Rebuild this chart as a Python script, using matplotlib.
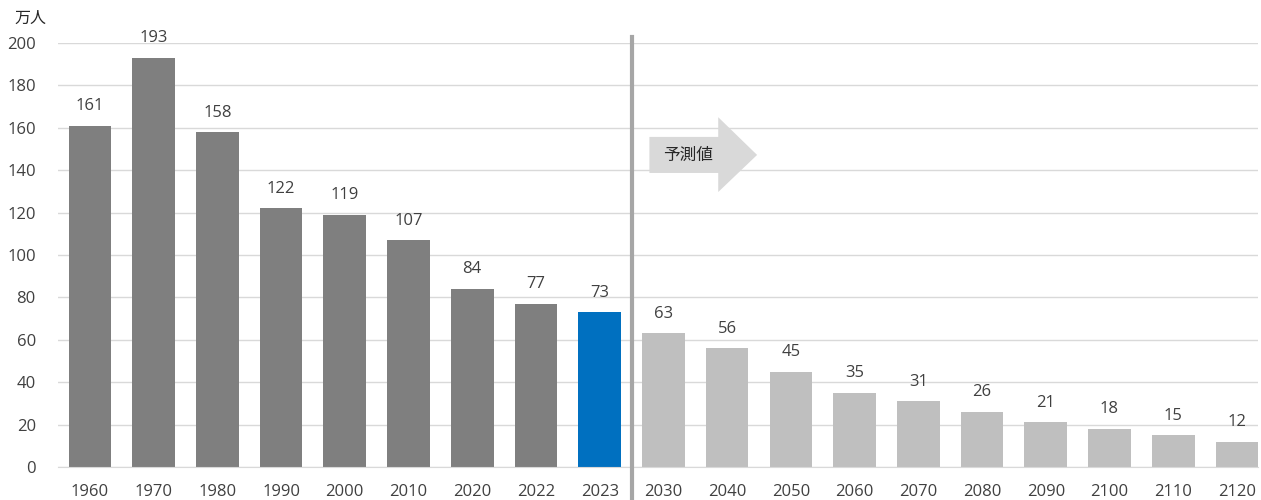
import matplotlib
matplotlib.use("Agg")
import matplotlib.pyplot as plt
from matplotlib.patches import Polygon

plt.rcParams["font.family"] = ["Open Sans", "Noto Sans CJK JP", "DejaVu Sans"]

years = ["1960", "1970", "1980", "1990", "2000", "2010", "2020", "2022", "2023",
         "2030", "2040", "2050", "2060", "2070", "2080", "2090", "2100", "2110", "2120"]
values = [161, 193, 158, 122, 119, 107, 84, 77, 73,
          63, 56, 45, 35, 31, 26, 21, 18, 15, 12]
n_actual = 8          # 1960-2022 actual
colors = ["#7f7f7f"] * n_actual + ["#0070c0"] + ["#bfbfbf"] * (len(years) - n_actual - 1)

fig = plt.figure(figsize=(12.61, 5), dpi=100)
ax = fig.add_axes([58 / 1261, 33 / 500, 1200 / 1261, 424 / 500])

x = list(range(len(years)))
ax.bar(x, values, width=0.67, color=colors, zorder=2)
for xi, v in zip(x, values):
    ax.annotate(str(v), (xi, v), xytext=(0, 14), textcoords="offset points",
                ha="center", va="center", fontsize=12, color="#404040")

ax.set_xlim(-0.5, 18.33)
ax.set_ylim(0, 200)
ax.set_yticks(range(0, 201, 20))
ax.set_xticks(x)
ax.set_xticklabels(years)
ax.yaxis.grid(True, color="#d9d9d9", linewidth=1, zorder=0)
for s in ["top", "right", "left"]:
    ax.spines[s].set_visible(False)
ax.spines["bottom"].set_color("#d9d9d9")
ax.tick_params(length=0, labelsize=12, labelcolor="#404040")
ax.tick_params(axis="x", pad=12)
ax.tick_params(axis="y", pad=16)

# divider between actual and projected
ax.plot([8.5, 8.5], [203, -16], color="#a6a6a6", linewidth=3, clip_on=False, zorder=3)

# projection arrow
arrow = Polygon([(8.78, 138.7), (9.86, 138.7), (9.86, 129.7), (10.47, 147.2),
                 (9.86, 165.0), (9.86, 155.7), (8.78, 155.7)],
                closed=True, facecolor="#d9d9d9", edgecolor="none", zorder=3)
ax.add_patch(arrow)
ax.text(9.38, 147.2, "予測値", ha="center", va="center", fontsize=12,
        color="#262626", family=["Noto Sans CJK JP"], zorder=4)

fig.text(30 / 1261, 1 - 18 / 500, "万人", ha="center", va="center", fontsize=11.5,
         color="#262626", family=["Noto Sans CJK JP"])

fig.savefig("out.png")
